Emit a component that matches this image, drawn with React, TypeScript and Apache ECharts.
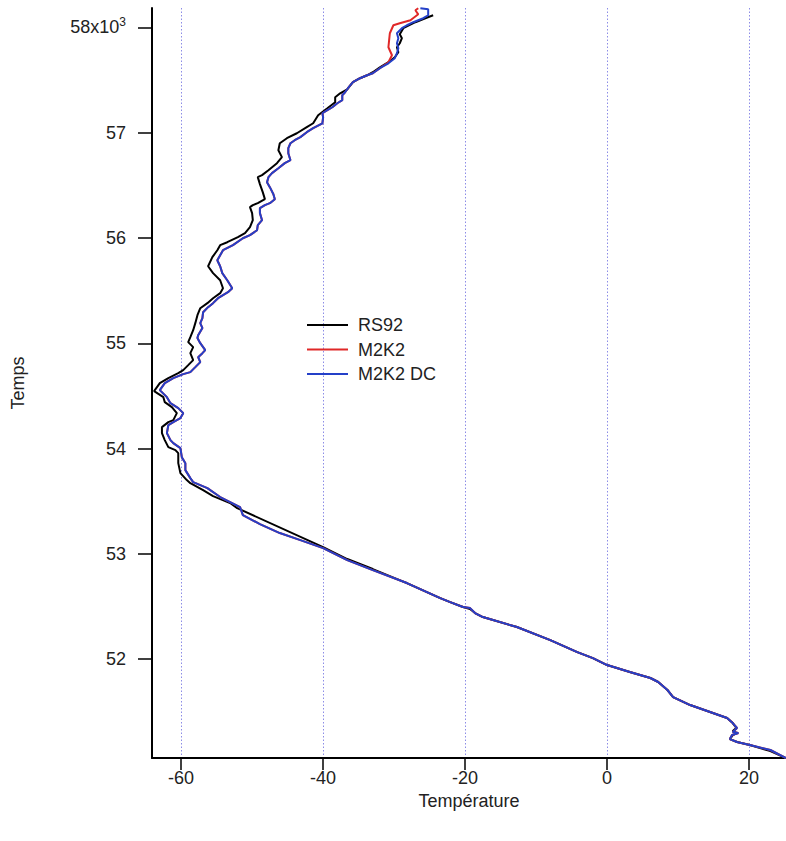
import React, { useEffect, useRef } from "react";
import * as echarts from "echarts";

// RS92 (black)
const rs92Temp = [25.2, 23.0, 20.1, 18.3, 17.3, 17.7, 18.3, 17.7, 18.2, 17.7, 16.9, 14.9, 11.7, 9.3, 8.5, 7.2, 6.1, 3.2, 0.0, -2.0, -4.2, -8.0, -12.7, -17.5, -18.6, -19.3, -20.3, -22.1, -23.5, -28.2, -33.0, -36.6, -40.0, -52.1, -53.1, -55.5, -56.9, -58.7, -59.2, -60.1, -60.4, -60.4, -60.8, -61.8, -62.3, -62.7, -62.7, -61.8, -61.1, -60.6, -61.3, -62.3, -62.5, -63.8, -63.0, -61.8, -60.4, -59.7, -59.0, -58.3, -58.7, -58.3, -59.0, -58.7, -58.3, -58.0, -57.7, -57.3, -56.3, -55.5, -54.5, -54.1, -54.5, -55.5, -56.2, -55.6, -54.9, -54.5, -53.5, -52.0, -51.0, -50.3, -49.9, -50.0, -50.3, -49.9, -49.2, -48.2, -48.5, -48.9, -49.2, -48.6, -47.7, -46.5, -45.8, -46.3, -46.1, -45.1, -43.7, -42.3, -41.4, -40.7, -39.4, -38.3, -38.3, -37.6, -36.6, -35.8, -34.8, -33.8, -33.0, -32.0, -30.8, -29.9, -29.4, -29.6, -29.2, -28.9, -29.2, -28.7, -27.0, -25.6, -24.5];
const rs92Time = [51060, 51126, 51183, 51212, 51240, 51278, 51297, 51316, 51345, 51392, 51440, 51487, 51563, 51639, 51706, 51782, 51820, 51877, 51943, 52009, 52066, 52180, 52304, 52399, 52437, 52475, 52494, 52541, 52579, 52722, 52855, 52950, 53064, 53434, 53482, 53548, 53605, 53671, 53700, 53766, 53861, 53956, 53985, 54013, 54080, 54146, 54203, 54251, 54270, 54336, 54393, 54441, 54488, 54545, 54621, 54669, 54716, 54745, 54792, 54840, 54906, 54963, 55011, 55058, 55124, 55191, 55267, 55333, 55381, 55428, 55476, 55523, 55599, 55666, 55732, 55818, 55884, 55932, 55960, 56008, 56046, 56103, 56169, 56236, 56293, 56312, 56331, 56369, 56436, 56512, 56578, 56597, 56644, 56711, 56768, 56834, 56900, 56948, 56995, 57053, 57090, 57166, 57233, 57290, 57337, 57375, 57413, 57480, 57518, 57546, 57575, 57622, 57670, 57717, 57765, 57812, 57850, 57898, 57936, 57993, 58050, 58088, 58116];

// M2K2 (red)
const m2k2Temp = [25.2, 23.0, 20.1, 18.3, 17.3, 17.6, 18.5, 17.7, 18.3, 17.7, 16.9, 14.9, 11.7, 9.3, 8.5, 7.2, 6.1, 3.2, 0.0, -2.0, -4.2, -8.0, -12.7, -17.5, -18.6, -19.3, -20.3, -22.1, -23.5, -28.2, -33.0, -36.6, -40.0, -43.2, -46.1, -48.9, -51.3, -51.7, -54.5, -56.3, -58.3, -58.7, -59.4, -59.4, -59.9, -60.1, -61.1, -61.5, -62.0, -61.8, -61.1, -60.1, -59.7, -60.4, -61.5, -62.0, -63.0, -62.3, -61.1, -59.7, -58.7, -58.0, -57.3, -57.6, -57.0, -56.6, -57.3, -57.7, -57.6, -57.0, -57.3, -57.0, -56.9, -56.2, -55.5, -54.8, -54.1, -53.4, -52.8, -53.5, -54.2, -54.5, -54.9, -54.5, -54.1, -52.7, -51.3, -50.3, -49.3, -49.2, -48.6, -48.9, -48.9, -48.2, -47.5, -46.8, -47.0, -47.5, -47.9, -47.7, -47.2, -46.3, -45.4, -44.6, -44.9, -44.9, -44.6, -44.0, -43.2, -42.3, -41.4, -40.1, -40.0, -40.1, -39.4, -38.7, -38.0, -37.3, -37.3, -36.9, -36.5, -35.8, -34.8, -33.8, -33.0, -32.0, -30.8, -30.3, -30.8, -30.7, -30.6, -30.1, -29.2, -27.7, -26.6, -27.0, -26.6];
const m2k2Time = [51060, 51136, 51183, 51212, 51240, 51278, 51297, 51306, 51345, 51392, 51440, 51487, 51563, 51639, 51706, 51782, 51820, 51877, 51943, 52009, 52066, 52180, 52304, 52399, 52437, 52484, 52494, 52541, 52579, 52722, 52845, 52940, 53054, 53130, 53197, 53282, 53368, 53444, 53539, 53624, 53681, 53719, 53795, 53861, 53918, 54004, 54051, 54080, 54146, 54222, 54251, 54289, 54336, 54384, 54431, 54488, 54555, 54621, 54669, 54707, 54726, 54773, 54821, 54868, 54906, 54935, 55001, 55049, 55077, 55144, 55191, 55238, 55295, 55343, 55381, 55428, 55457, 55485, 55523, 55599, 55666, 55732, 55789, 55837, 55884, 55932, 55998, 56027, 56074, 56122, 56169, 56236, 56283, 56312, 56331, 56369, 56416, 56483, 56530, 56578, 56616, 56663, 56711, 56739, 56805, 56853, 56900, 56929, 56958, 57005, 57043, 57090, 57147, 57185, 57214, 57242, 57280, 57309, 57356, 57385, 57423, 57480, 57518, 57546, 57565, 57613, 57670, 57736, 57812, 57879, 57945, 58021, 58040, 58069, 58125, 58164, 58183];

// M2K2 DC (blue)
const dcTemp = [25.2, 23.0, 20.1, 18.3, 17.3, 17.6, 18.5, 17.7, 18.3, 17.7, 16.9, 14.9, 11.7, 9.3, 8.5, 7.2, 6.1, 3.2, 0.0, -2.0, -4.2, -8.0, -12.7, -17.5, -18.6, -19.3, -20.3, -22.1, -23.5, -28.2, -33.0, -36.6, -40.0, -43.2, -46.1, -48.9, -51.3, -51.7, -54.5, -56.3, -58.3, -58.7, -59.4, -59.4, -59.9, -60.1, -61.1, -61.5, -62.0, -61.8, -61.1, -60.1, -59.7, -60.4, -61.5, -62.0, -63.0, -62.3, -61.1, -59.7, -58.7, -58.0, -57.3, -57.6, -57.0, -56.6, -57.3, -57.7, -57.6, -57.0, -57.3, -57.0, -56.9, -56.2, -55.5, -54.8, -54.1, -53.4, -52.8, -53.5, -54.2, -54.5, -54.9, -54.5, -54.1, -52.7, -51.3, -50.3, -49.3, -49.2, -48.6, -48.9, -48.9, -48.2, -47.5, -46.8, -47.0, -47.5, -47.9, -47.7, -47.2, -46.3, -45.4, -44.6, -44.9, -44.9, -44.6, -44.0, -43.2, -42.3, -41.4, -40.1, -40.0, -40.1, -39.4, -38.7, -38.0, -37.3, -37.3, -36.9, -36.5, -35.8, -34.8, -33.8, -33.0, -32.0, -30.8, -29.9, -29.6, -29.4, -29.6, -29.4, -29.6, -28.9, -28.2, -27.3, -25.9, -25.2, -25.2, -26.3];
const dcTime = [51060, 51136, 51183, 51212, 51240, 51278, 51297, 51306, 51345, 51392, 51440, 51487, 51563, 51639, 51706, 51782, 51820, 51877, 51943, 52009, 52066, 52180, 52304, 52399, 52437, 52484, 52494, 52541, 52579, 52722, 52845, 52940, 53054, 53130, 53197, 53282, 53368, 53444, 53539, 53624, 53681, 53719, 53795, 53861, 53918, 54004, 54051, 54080, 54146, 54222, 54251, 54289, 54336, 54384, 54431, 54488, 54555, 54621, 54669, 54707, 54726, 54773, 54821, 54868, 54906, 54935, 55001, 55049, 55077, 55144, 55191, 55238, 55295, 55343, 55381, 55428, 55457, 55485, 55523, 55599, 55666, 55732, 55789, 55837, 55884, 55932, 55998, 56027, 56074, 56122, 56169, 56236, 56283, 56312, 56331, 56369, 56416, 56483, 56530, 56578, 56616, 56663, 56711, 56739, 56805, 56853, 56900, 56929, 56958, 57005, 57043, 57090, 57147, 57185, 57214, 57242, 57280, 57309, 57356, 57385, 57423, 57480, 57518, 57546, 57565, 57613, 57660, 57708, 57755, 57803, 57850, 57898, 57945, 57993, 58021, 58050, 58088, 58116, 58173, 58183];

const xTicks = [-60, -40, -20, 0, 20];
const yTicks = [52000, 53000, 54000, 55000, 56000, 57000, 58000];
const seriesNames = ["RS92", "M2K2", "M2K2 DC"];

const zip = (a: number[], b: number[]) => a.map((v, i) => [v, b[i]]);

export default function App() {
  const ref = useRef<HTMLDivElement>(null);
  useEffect(() => {
    if (!ref.current) return;
    const chart = echarts.init(ref.current, null, { renderer: "svg" });
    const font = "'Liberation Sans', Arial, sans-serif";
    const txt = "#222";
    chart.setOption({
      animation: false,
      backgroundColor: "#ffffff",
      textStyle: { fontFamily: font },
      grid: { left: 152, right: 0, top: 8, bottom: 83, containLabel: false },
      legend: {
        orient: "vertical",
        left: 307,
        top: 313,
        padding: 0,
        itemGap: 0.5,
        itemWidth: 41,
        itemHeight: 2,
        icon: "rect",
        data: seriesNames,
        textStyle: { fontSize: 18, lineHeight: 24, color: txt, fontFamily: font, padding: [0, 0, 0, 5] },
      },
      xAxis: {
        type: "value",
        min: -64.1,
        max: 25.2,
        name: "Température",
        nameLocation: "middle",
        nameGap: 33,
        nameTextStyle: { fontSize: 18, color: txt, fontFamily: font },
        axisLine: { show: true, onZero: false, lineStyle: { color: "#000", width: 2 } },
        axisTick: { show: true, length: 12, customValues: xTicks, lineStyle: { color: "#000", width: 1.5 } },
        axisLabel: { customValues: xTicks, fontSize: 18, color: txt, margin: 11, fontFamily: font },
        splitLine: { show: true, lineStyle: { color: "#8c8ce6", type: [1.5, 2], width: 1 } },
      },
      yAxis: {
        type: "value",
        min: 51060,
        max: 58185,
        name: "Temps",
        nameLocation: "middle",
        nameGap: 125,
        nameRotate: 90,
        nameTextStyle: { fontSize: 18, color: txt, fontFamily: font },
        axisLine: { show: true, onZero: false, lineStyle: { color: "#000", width: 2 } },
        axisTick: { show: true, length: 14, customValues: yTicks, lineStyle: { color: "#000", width: 1.5 } },
        axisLabel: {
          customValues: yTicks,
          fontSize: 18,
          color: txt,
          margin: 26,
          fontFamily: font,
          formatter: (v: number) => (v === 58000 ? "{a|58x10}{s|3}" : String(Math.round(v / 1000))),
          rich: {
            a: { fontSize: 18, color: txt, fontFamily: font },
            s: { fontSize: 12, color: txt, fontFamily: font, verticalAlign: "top", padding: [0, 0, 10, 0] },
          },
        },
        splitLine: { show: false },
      },
      series: [
        { name: "RS92", type: "line", data: zip(rs92Temp, rs92Time), showSymbol: false, symbol: "none", lineStyle: { color: "#000000", width: 2 }, itemStyle: { color: "#000000" } },
        { name: "M2K2", type: "line", data: zip(m2k2Temp, m2k2Time), showSymbol: false, symbol: "none", lineStyle: { color: "#e02828", width: 2 }, itemStyle: { color: "#e02828" } },
        { name: "M2K2 DC", type: "line", data: zip(dcTemp, dcTime), showSymbol: false, symbol: "none", lineStyle: { color: "#2440c8", width: 2 }, itemStyle: { color: "#2440c8" } },
      ],
    });
    return () => chart.dispose();
  }, []);
  return <div ref={ref} style={{ position: "fixed", left: 0, top: 0, width: 786, height: 841 }} />;
}
